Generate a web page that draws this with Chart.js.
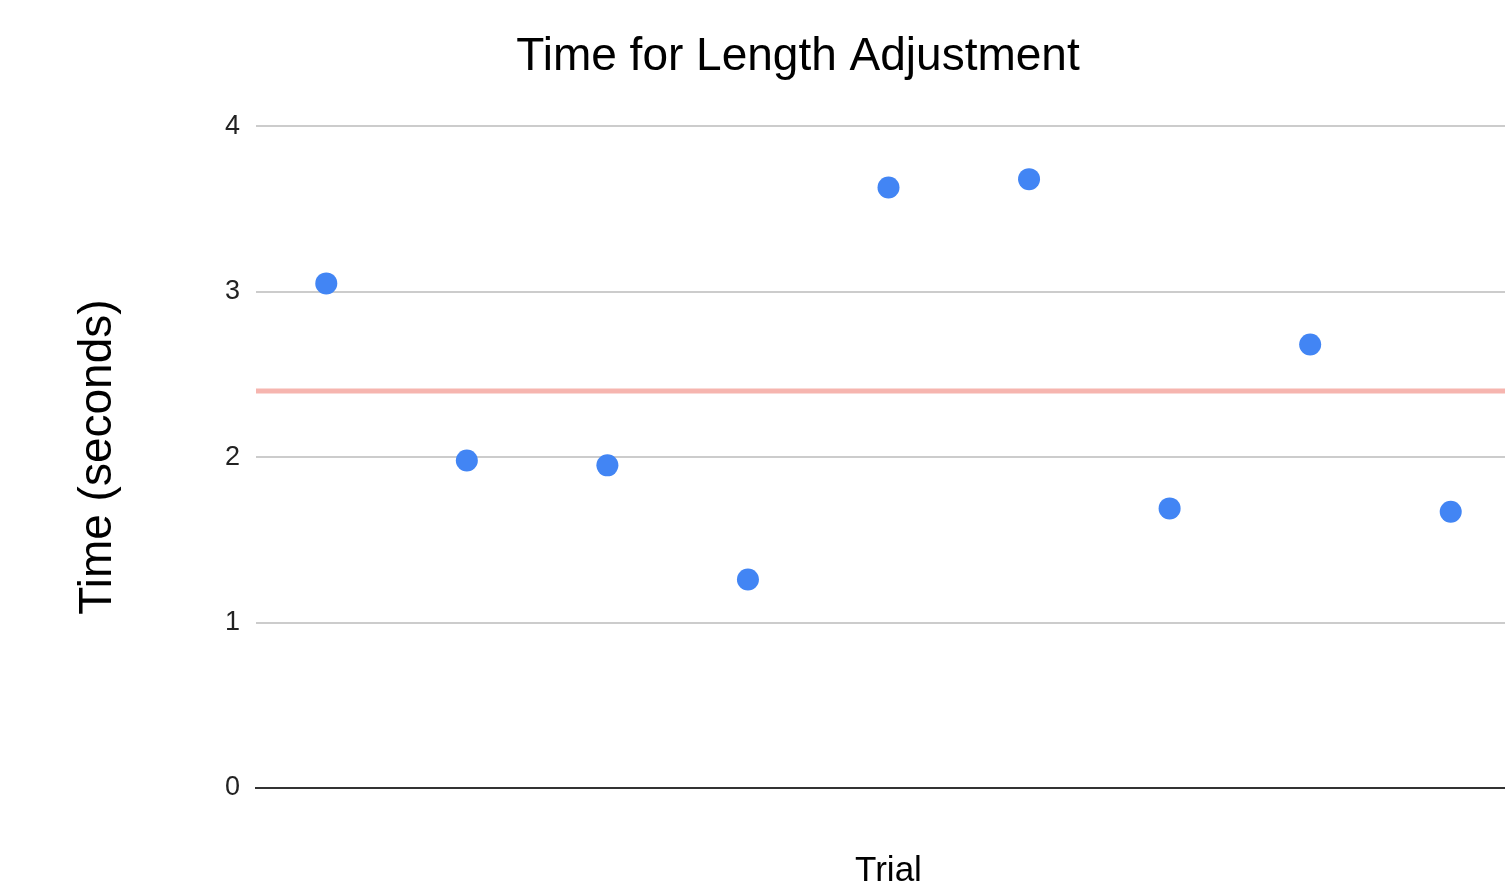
<!DOCTYPE html>
<html>
<head>
<meta charset="utf-8">
<title>Time for Length Adjustment</title>
<script src="https://cdn.jsdelivr.net/npm/chart.js@4"></script>
<style>
  html, body { margin: 0; padding: 0; background: #fff; overflow: hidden; }
  #wrap { width: 1596px; height: 892px; position: relative; }
</style>
</head>
<body>
<div id="wrap"><canvas id="chart"></canvas></div>
<script>
// Daten
const trials = [1, 2, 3, 4, 5, 6, 7, 8, 9];
const times = [3.05, 1.98, 1.95, 1.26, 3.63, 3.68, 1.69, 2.68, 1.67];
const yTicks = [0, 1, 2, 3, 4];

// Durchschnitt fuer die rote Linie
const avg = times.reduce((a, b) => a + b, 0) / times.length;

const FONT = "'Liberation Sans', Arial, sans-serif";

new Chart(document.getElementById("chart"), {
  type: "scatter",
  data: {
    datasets: [
      {
        label: "Time",
        data: trials.map((t, i) => ({ x: t, y: times[i] })),
        backgroundColor: "#4285f4",
        borderColor: "#4285f4",
        pointRadius: 11,
        pointHoverRadius: 11,
        borderWidth: 0
      },
      {
        type: "line",
        label: "Average",
        data: [{ x: 0.5, y: avg }, { x: 9.5, y: avg }],
        borderColor: "#f6b5af",
        borderWidth: 5,
        pointRadius: 0,
        fill: false
      }
    ]
  },
  options: {
    responsive: true,
    maintainAspectRatio: false,
    animation: false,
    layout: { padding: 0 },
    plugins: {
      legend: { display: false },
      tooltip: { enabled: false },
      title: {
        display: true,
        text: "Time for Length Adjustment",
        color: "#000",
        font: { family: FONT, size: 46, weight: "normal", lineHeight: 1.2 },
        padding: { top: 30, bottom: 41 }
      }
    },
    scales: {
      x: {
        type: "linear",
        min: 0.5,
        max: 9.5,
        ticks: { display: false },
        grid: { display: false, drawTicks: false },
        border: { display: true, color: "#333", width: 2 },
        title: {
          display: true,
          text: "Trial",
          color: "#000",
          font: { family: FONT, size: 35, lineHeight: 1.2 },
          padding: { top: 62, bottom: 0 }
        },
        afterFit: (scale) => { scale.height = 104; }
      },
      y: {
        min: 0,
        max: 4,
        afterBuildTicks: (scale) => { scale.ticks = yTicks.map(v => ({ value: v })); },
        ticks: {
          color: "#222",
          padding: 16,
          font: { family: FONT, size: 27 }
        },
        grid: { color: "#cccccc", lineWidth: 2, drawTicks: false },
        border: { display: false },
        title: {
          display: true,
          text: "Time (seconds)",
          color: "#000",
          font: { family: FONT, size: 46, lineHeight: 1.2 },
          padding: { top: 71, bottom: 0 }
        },
        afterFit: (scale) => { scale.width = 256; }
      },
      // leere Achse rechts, nur fuer den Rand
      yRight: {
        position: "right",
        min: 0,
        max: 4,
        ticks: { display: false },
        grid: { display: false, drawTicks: false },
        border: { display: false },
        afterFit: (scale) => { scale.width = 75; }
      }
    }
  }
});
</script>
</body>
</html>
